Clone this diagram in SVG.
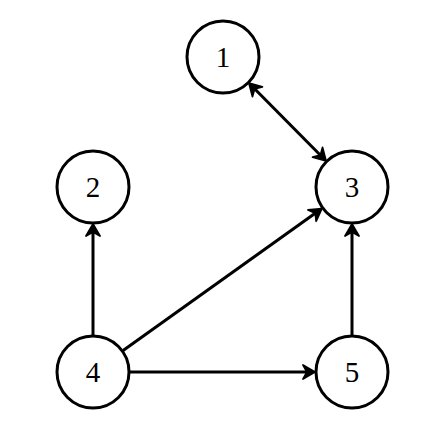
<svg xmlns="http://www.w3.org/2000/svg" width="432" height="432" viewBox="0 0 432 432">
<defs>
<style>
.node circle{fill:#fff;stroke:#000;stroke-width:3}
.node text{font-family:"Liberation Serif","DejaVu Serif",serif;font-size:29px;fill:#000;text-anchor:middle;dominant-baseline:central}
.edge{stroke:#000;stroke-width:3;fill:none}
</style>
<marker id="ah" markerUnits="userSpaceOnUse" markerWidth="30" markerHeight="30" viewBox="-15 -15 30 30" refX="0" refY="0" orient="auto-start-reverse" overflow="visible">
<path d="M3,0 L-9,-7 L-5,0 L-9,7 Z" fill="#000" stroke="#000" stroke-width="1.8" stroke-linejoin="round"/>
</marker>
</defs>
<rect width="432" height="432" fill="#fff"/>
<g id="connectors">
<line class="edge" x1="251.1" y1="85.3" x2="323.9" y2="158.7" marker-start="url(#ah)" marker-end="url(#ah)"/>
<line class="edge" x1="123.1" y1="350.5" x2="319.4" y2="210.3" marker-end="url(#ah)"/>
<line class="edge" x1="93" y1="335" x2="93" y2="227" marker-end="url(#ah)"/>
<line class="edge" x1="130" y1="372" x2="312" y2="372" marker-end="url(#ah)"/>
<line class="edge" x1="352" y1="335" x2="352" y2="227" marker-end="url(#ah)"/>
</g>
<g id="node1" class="node"><circle cx="223" cy="57" r="36"/><text x="223" y="57">1</text></g>
<g id="node2" class="node"><circle cx="93" cy="187" r="36"/><text x="93" y="187">2</text></g>
<g id="node3" class="node"><circle cx="352" cy="187" r="36"/><text x="352" y="187">3</text></g>
<g id="node4" class="node"><circle cx="93" cy="372" r="36"/><text x="93" y="372">4</text></g>
<g id="node5" class="node"><circle cx="352" cy="372" r="36"/><text x="352" y="372">5</text></g>
</svg>
